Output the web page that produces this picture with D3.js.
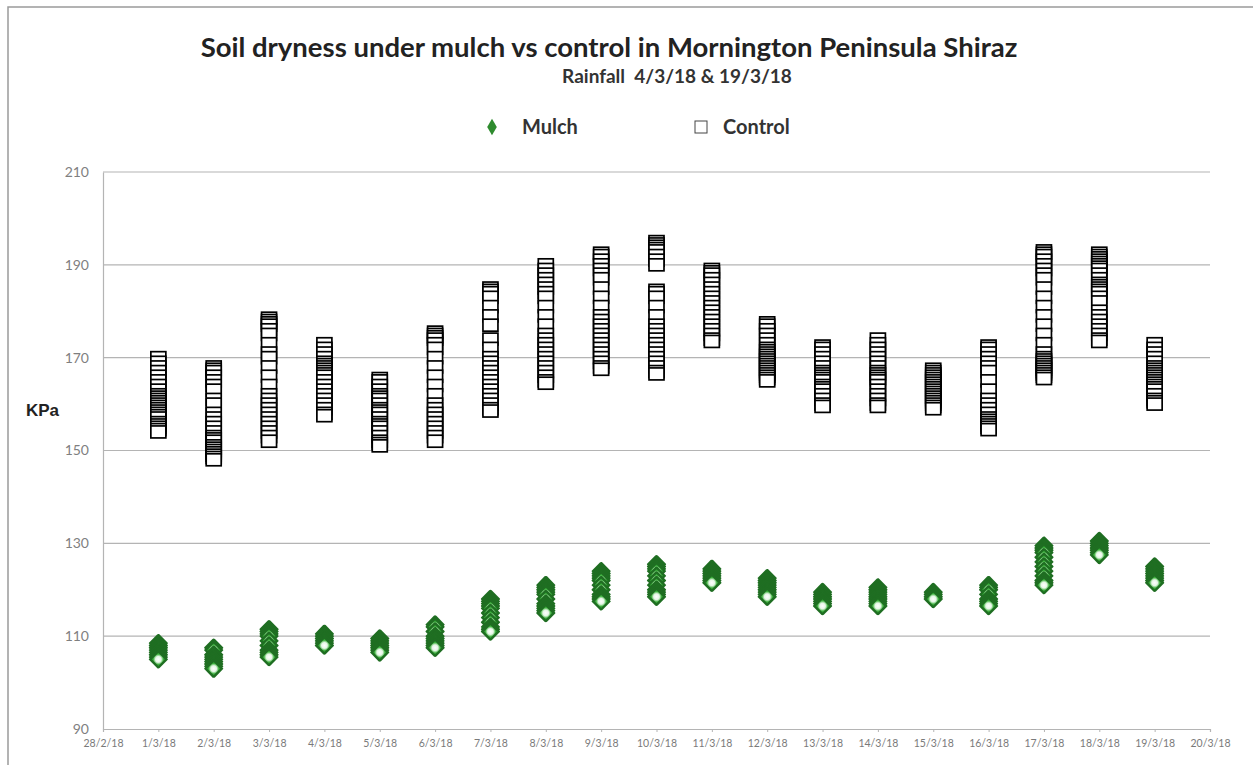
<!DOCTYPE html>
<html><head><meta charset="utf-8">
<script src="https://cdn.jsdelivr.net/npm/d3@7"></script>
<style>body{margin:0;background:#fff;}svg{display:block;font-family:Lato,"Open Sans",sans-serif;}</style>
</head><body>
<svg id="chart" width="1253" height="765"></svg>
<script>
const tickLabels = ["28/2/18","1/3/18","2/3/18","3/3/18","4/3/18","5/3/18","6/3/18","7/3/18","8/3/18","9/3/18","10/3/18","11/3/18","12/3/18","13/3/18","14/3/18","15/3/18","16/3/18","17/3/18","18/3/18","19/3/18","20/3/18"];
const days = ["1/3/18","2/3/18","3/3/18","4/3/18","5/3/18","6/3/18","7/3/18","8/3/18","9/3/18","10/3/18","11/3/18","12/3/18","13/3/18","14/3/18","15/3/18","16/3/18","17/3/18","18/3/18","19/3/18"];
const yTicks = [90,110,130,150,170,190,210];

const control = [
 [170,169,168,167,166,165,164,163,162,161.5,161,160.5,160,159.5,159,158.5,158,157.5,157,156,155.5,155,154.5,154],
 [168,167.5,167,166,165,164,163,161,160,158,157,156,155,154,153,152.5,152,151,150.5,150,149.5,149,148.5,148],
 [178.5,178,177.5,177,176,175,173,171,170,168,166,164,162,161,160,159,158,157,156,155,154,153,152],
 [173,172,171,170,169,168.5,168,167.5,167,166.5,166,165,164,163,162,161,160,159,158,157.5],
 [165.5,165,164,163,162,161.5,161,160,159,158.5,158,157,156,155.5,155,154,153,152,151.5,151],
 [175.5,175,174.5,174,173,172,170,168,166,164,162,160,159,158,157,156,155,154,153,152],
 [185,184.5,184,183,181,179,177,174,172,170,169,168,167,166,165,164,163,162,161,160,159,158.5],
 [190,189,188,187,186,185,184,183,181,179,177,175,174,173,172,171,170,169,168,167,166,165,164.5],
 [192.5,192,191,190,189,188,187,185,183,181,179,178,177,176,175,174,173,172,171,170,169,168,167.5],
 [195,194.5,194,193.5,193,192,191,190,184.5,184,183,181,179,177,176,175,174,173,172,171,170,169,168,167,166.5],
 [189,188.5,188,187,186,185,184,183,182,181,180,179,178,177,176,175,174,173.5],
 [177.5,177,176,175,174,173,172,171.5,171,170.5,170,169.5,169,168.5,168,167.5,167,166.5,166,165.5,165],
 [172.5,172,171,170,169,168,167,166.5,166,165.5,165,164,163.5,163,162,161,160,159.5],
 [174,173,172,171,170,169,168,167,166.5,166,165.5,165,164,163,162,161,160,159.5],
 [167.5,167,166.5,166,165.5,165,164.5,164,163.5,163,162.5,162,161.5,161,160.5,160,159.5,159],
 [172.5,172,171,170,169,168,167,165,163,161,160,159,158,157,156.5,156,155.5,155,154.5],
 [193,192.5,192,191,190,189,188,187,185,183,181,179,177,175,173,171,170,169.5,169,168.5,168,167.5,167,166.5,166,165.5],
 [192.5,192,191.5,191,190.5,190,189.5,189,188,187,186,185.5,185,184.5,184,183,182,180,179,178,177,176,175,174,173.5],
 [173,172,171,170,169,168,167.5,167,166.5,166,165.5,165,164.5,164,163.5,163,162,161,160.5,160]
];
const mulch = [
 [108.5,108,107.5,107,106.5,106,105.5,105],
 [107.5,107,106,105.5,105,104.5,104,103.5,103],
 [111.5,111,110.5,110,109,108,107,106.5,106,105.5],
 [110.5,110,109.5,109,108.5,108],
 [109.5,109,108.5,108,107.5,107,106.5],
 [112.5,112,111,110,109.5,109,108.5,108,107.5],
 [118,117.5,117,116.5,116,115,114,113,112,111.5,111],
 [121,120.5,120,119.5,119,118,117,116.5,116,115.5,115],
 [124,123.5,123,122.5,122,121,120,119,118.5,118,117.5],
 [125.5,125,124.5,124,123,122,121,120,119.5,119,118.5],
 [124.5,124,123.5,123,122.5,122,121.5],
 [122.5,122,121.5,121,120.5,120,119.5,119,118.5],
 [119.5,119,118.5,118,117.5,117,116.5],
 [120.5,120,119.5,119,118.5,118,117.5,117,116.5],
 [119.5,119,118.5,118],
 [121,120.5,120,119,118,117.5,117,116.5],
 [129.5,129,128.5,128,127,126,125,124,123,122,121.5,121],
 [130.5,130,129.5,129,128.5,128,127.5],
 [125,124.5,124,123.5,123,122.5,122,121.5]
];

const svg = d3.select("#chart");
const L = 103, R = 1210, T = 172, B = 729;
const x = d3.scalePoint().domain(tickLabels).range([L, R]);
const y = d3.scaleLinear().domain([90, 210]).range([B, T]);

// outer frame
svg.append("rect").attr("x", 8).attr("y", 7).attr("width", 1250).attr("height", 770)
  .attr("fill", "none").attr("stroke", "#9a9a9a").attr("stroke-width", 1.5);

const defs = svg.append("defs");
const g1 = defs.append("radialGradient").attr("id", "mg");
g1.append("stop").attr("offset", "0%").attr("stop-color", "#ffffff");
g1.append("stop").attr("offset", "35%").attr("stop-color", "#e6f6e6");
g1.append("stop").attr("offset", "62%").attr("stop-color", "#3cb03c");
g1.append("stop").attr("offset", "100%").attr("stop-color", "#24882a");

// gridlines
svg.append("g").selectAll("line").data(yTicks.filter(d => d > 90)).join("line")
  .attr("x1", L).attr("x2", R).attr("y1", d => y(d)).attr("y2", d => y(d))
  .attr("stroke", "#b4b4b4").attr("stroke-width", 1.2);

// y axis
const yAxis = svg.append("g").attr("transform", `translate(${L},0)`)
  .call(d3.axisLeft(y).tickValues(yTicks).tickSize(0).tickPadding(14));
yAxis.select(".domain").attr("stroke", "#b4b4b4").attr("stroke-width", 1.2);
yAxis.selectAll("text").attr("fill", "#7f7f7f").attr("font-size", 14).attr("font-family", "Lato");

// x axis
const xAxis = svg.append("g").attr("transform", `translate(0,${B})`)
  .call(d3.axisBottom(x).tickSize(3).tickPadding(8));
xAxis.select(".domain").attr("stroke", "#b4b4b4").attr("stroke-width", 1.2);
xAxis.selectAll(".tick line").attr("stroke", "#b4b4b4");
xAxis.selectAll("text").attr("fill", "#7a7a7a").attr("font-size", 10.5).attr("font-family", "Lato");

// control markers
const cg = svg.append("g");
days.forEach((d, i) => {
  cg.selectAll(null).data(control[i]).join("rect")
    .attr("x", x(d) - 7.5).attr("y", v => y(v) - 6).attr("width", 15).attr("height", 12)
    .attr("fill", "#ffffff").attr("stroke", "#000").attr("stroke-width", 1.7);
});

// mulch markers
const mg = svg.append("g");
const diamond = d3.symbol().type(d3.symbolDiamond).size(80);
days.forEach((d, i) => {
  mg.selectAll(null).data(mulch[i]).join("path")
    .attr("d", diamond)
    .attr("transform", v => `translate(${x(d)},${y(v)}) scale(1.7,1)`)
    .attr("fill", "url(#mg)").attr("stroke", "#1f6e22").attr("stroke-width", 1.7)
    .attr("stroke-linejoin", "round");
});

// titles
svg.append("text").attr("x", 609).attr("y", 57).attr("text-anchor", "middle")
  .attr("font-size", 27.5).attr("font-weight", "bold").attr("fill", "#222")
  .text("Soil dryness under mulch vs control in Mornington Peninsula Shiraz");
svg.append("text").attr("x", 677).attr("y", 83).attr("text-anchor", "middle")
  .attr("font-size", 19).attr("font-weight", "bold").attr("fill", "#333")
  .style("white-space", "pre")
  .text("Rainfall  4/3/18 & 19/3/18");

// legend
svg.append("path").attr("d", d3.symbol().type(d3.symbolDiamond).size(80))
  .attr("transform", "translate(492,127)").attr("fill", "#2e8b2e");
svg.append("text").attr("x", 522).attr("y", 134).attr("font-size", 20).attr("font-weight", "bold").attr("fill", "#333").text("Mulch");
svg.append("rect").attr("x", 695).attr("y", 121).attr("width", 12).attr("height", 12)
  .attr("fill", "#fff").attr("stroke", "#444").attr("stroke-width", 1);
svg.append("text").attr("x", 723).attr("y", 134).attr("font-size", 20).attr("font-weight", "bold").attr("fill", "#333").text("Control");

// y label
svg.append("text").attr("x", 26).attr("y", 416).attr("font-size", 17).attr("font-weight", "bold")
  .attr("font-family", "Liberation Sans").attr("fill", "#222").text("KPa");
</script>
</body></html>
